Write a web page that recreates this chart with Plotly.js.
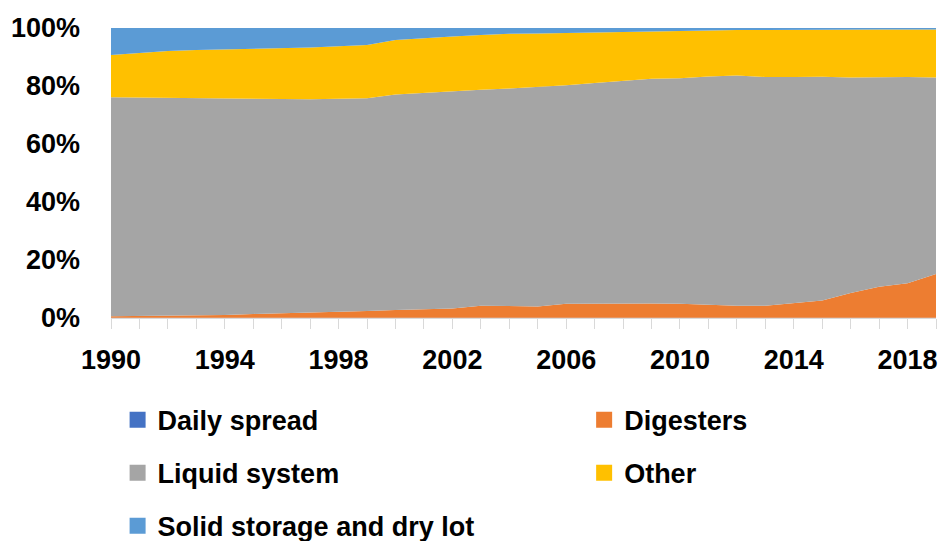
<!DOCTYPE html>
<html>
<head>
<meta charset="utf-8">
<script src="https://cdn.plot.ly/plotly-3.0.1.min.js"></script>
<style>html,body{margin:0;padding:0;background:#fff;}#chart{width:940px;height:541px;}</style>
</head>
<body>
<div id="chart"></div>
<script>
var years = [1990,1991,1992,1993,1994,1995,1996,1997,1998,1999,2000,2001,2002,2003,2004,2005,2006,2007,2008,2009,2010,2011,2012,2013,2014,2015,2016,2017,2018,2019];
var dailySpread = [0.1,0.1,0.1,0.1,0.1,0.1,0.1,0.1,0.1,0.1,0.1,0.1,0.1,0.1,0.1,0.1,0.1,0.1,0.1,0.1,0.1,0.1,0.1,0.1,0.1,0.1,0.1,0.1,0.1,0.1];
var digesters = [0.5,0.6,0.7,0.9,0.9,1.3,1.5,1.8,2.0,2.3,2.7,3.0,3.2,4.1,3.9,3.9,4.8,4.9,5.0,4.9,4.8,4.4,4.1,4.1,5.0,5.9,8.5,10.7,11.9,15.1];
var liquidSystem = [75.5,75.3,75.1,74.8,74.5,74.0,73.8,73.5,73.5,73.4,74.3,74.6,75.0,74.5,75.1,75.6,75.4,76.0,76.7,77.5,77.8,78.8,79.4,78.9,78.0,77.2,74.3,72.3,71.1,67.7];
var other = [14.6,15.4,16.2,16.6,17.1,17.4,17.6,17.9,18.1,18.3,18.8,18.9,18.8,18.9,18.9,18.5,18.0,17.5,16.9,16.4,16.4,15.9,15.7,16.2,16.3,16.2,16.6,16.4,16.4,16.6];
var solidStorage = [9.3,8.6,7.9,7.6,7.4,7.2,7.0,6.7,6.3,5.9,4.1,3.4,2.9,2.4,2.0,1.9,1.7,1.5,1.3,1.1,0.9,0.8,0.7,0.7,0.6,0.6,0.5,0.5,0.5,0.5];
var seriesNames = ['Daily spread','Digesters','Liquid system','Other','Solid storage and dry lot'];
var xTickLabels = ['1990','1994','1998','2002','2006','2010','2014','2018'];
var yTickLabels = ['0%','20%','40%','60%','80%','100%'];

var colors = ['#4472C4','#ED7D31','#A5A5A5','#FFC000','#5B9BD5'];
var seriesData = [dailySpread, digesters, liquidSystem, other, solidStorage];
var FONT = 'Liberation Sans, Arial, sans-serif';

var traces = [];
seriesData.forEach(function(vals, i){
  traces.push({
    x: years, y: vals, type: 'scatter', mode: 'lines',
    stackgroup: 'one', groupnorm: i === 0 ? 'percent' : undefined,
    line: {width: 0, color: colors[i]}, fillcolor: colors[i],
    name: seriesNames[i], showlegend: false, hoverinfo: 'skip'
  });
});
// legend entries
var legendIds = ['legend','legend2','legend3','legend4','legend5'];
seriesNames.forEach(function(n, i){
  traces.push({
    x: [null], y: [null], type: 'scatter', mode: 'markers',
    marker: {symbol: 'square', size: 18, color: colors[i]},
    name: n, showlegend: true, legend: legendIds[i]
  });
});

var legendPos = [[0.008, -0.352],[0.5735, -0.352],[0.008, -0.535],[0.5735, -0.535],[0.008, -0.718]];
var layout = {
  width: 940, height: 541,
  margin: {l: 111, r: 4, t: 28, b: 223, autoexpand: false},
  paper_bgcolor: '#fff', plot_bgcolor: '#fff',
  font: {family: FONT, color: '#000'},
  xaxis: {
    range: [1990, 2019], tickmode: 'array',
    tickvals: xTickLabels.map(Number), ticktext: xTickLabels,
    ticks: 'outside', ticklen: 10, tickcolor: '#D9D9D9', tickwidth: 1,
    minor: {tickmode: 'array', tickvals: years, ticks: 'outside', ticklen: 10, tickcolor: '#D9D9D9', tickwidth: 1, showgrid: false},
    showline: true, linecolor: '#D9D9D9', linewidth: 1,
    showgrid: false, zeroline: false, ticklabelstandoff: 8, automargin: false,
    tickfont: {family: FONT, size: 27, color: '#000', weight: 'bold'},
    fixedrange: true
  },
  yaxis: {
    range: [0, 100], tickmode: 'array', tickvals: [0,20,40,60,80,100], ticktext: yTickLabels,
    showgrid: true, gridcolor: '#D9D9D9', zeroline: false, showline: false,
    ticks: '', ticklabelstandoff: 30, automargin: false,
    tickfont: {family: FONT, size: 27, color: '#000', weight: 'bold'},
    fixedrange: true
  },
  showlegend: true,
  hovermode: false
};
legendIds.forEach(function(id, i){
  layout[id] = {
    x: legendPos[i][0], y: legendPos[i][1], xanchor: 'left', yanchor: 'middle',
    orientation: 'h', bgcolor: 'rgba(0,0,0,0)',
    font: {family: FONT, size: 27, color: '#000', weight: 'bold'},
    itemclick: false, itemdoubleclick: false
  };
});

Plotly.newPlot('chart', traces, layout, {displayModeBar: false, staticPlot: true});
</script>
</body>
</html>
